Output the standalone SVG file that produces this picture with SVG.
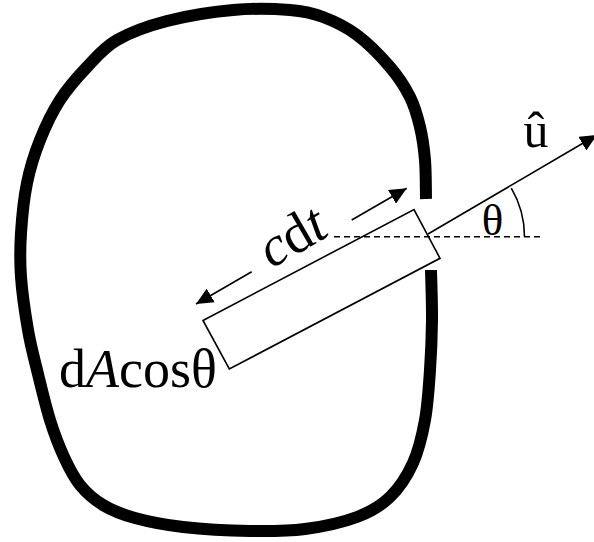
<svg xmlns="http://www.w3.org/2000/svg" width="594" height="542" viewBox="0 0 594 542">
<style>
.thin{fill:none;stroke:#000;stroke-width:1.6}
.dash{fill:none;stroke:#000;stroke-width:1.4;stroke-dasharray:6,4}
.lbl{font-family:"Liberation Serif","Times New Roman",serif;fill:#000}
.it{font-style:italic}
</style>
<defs>
<marker id="ah" markerUnits="userSpaceOnUse" markerWidth="17" markerHeight="16" refX="16" refY="7.5" orient="auto" viewBox="0 0 16 15">
<path d="M0,0 L16,7.5 L0,15 z" fill="#000"/>
</marker>
</defs>
<rect width="594" height="542" fill="#fff"/>
<g id="surface">
<path fill="none" stroke="#000" stroke-width="12" stroke-linecap="butt" stroke-linejoin="round" d="M426,199 C425.83,192.5 426,172 425,160 C424,148 422.5,137.5 420,127 C417.5,116.5 415,107 410,97 C405,87 398.83,77.33 390,67 C381.17,56.67 368.17,43.33 357,35 C345.83,26.67 334.17,21.17 323,17 C311.830,12.83 305,11.17 290,10 C275,8.83 253.5,8.17 233,10 C212.5,11.83 186.33,16 167,21 C147.67,26 130.33,32.33 117,40 C103.67,47.67 96.5,57 87,67 C77.5,77 67.83,87.83 60,100 C52.17,112.17 45.5,126.17 40,140 C34.5,153.83 30.17,167.5 27,183 C23.83,198.5 22,217.33 21,233 C20,248.67 19.83,260.83 21,277 C22.17,293.17 25.33,314.5 28,330 C30.67,345.5 33.33,355 37,370 C40.67,385 45.5,405.5 50,420 C54.5,434.5 59,446.17 64,457 C69,467.83 73.5,477 80,485 C86.5,493 93.83,499.5 103,505 C112.17,510.5 121.67,514.33 135,518 C148.33,521.67 163.83,524.83 183,527 C202.17,529.17 229.67,530.67 250,531 C270.33,531.33 287.17,531.33 305,529 C322.83,526.67 342.83,522.33 357,517 C371.17,511.67 380.67,506 390,497 C399.33,488 407.17,475.83 413,463 C418.83,450.17 422.17,435.5 425,420 C427.83,404.5 428.83,386.67 430,370 C431.17,353.33 431.83,336.67 432,320 C432.17,303.33 431.17,278.33 431,270"/>
</g>
<g id="cylinder">
<polygon class="thin" points="203,320.5 414,209.5 440,258.3 229.3,369"/>
</g>
<g id="connectors">
<line class="thin" x1="351.7" y1="220" x2="406.7" y2="188.3" marker-end="url(#ah)"/>
<line class="thin" x1="251.7" y1="271.7" x2="196" y2="304" marker-end="url(#ah)"/>
<line class="thin" x1="428" y1="234" x2="597" y2="135" marker-end="url(#ah)"/>
<line class="dash" x1="334" y1="236.7" x2="543" y2="236.7"/>
<path class="thin" d="M511.3,188.1 A96,96 0 0 1 524.5,236.7"/>
</g>
<g id="labels">
<text class="lbl" x="59" y="387" font-size="54">d<tspan class="it">A</tspan>cosθ</text>
<text class="lbl" x="301" y="252" font-size="56" text-anchor="middle" transform="rotate(-30 301 252)"><tspan class="it">c</tspan>d<tspan class="it">t</tspan></text>
<text class="lbl" x="536" y="147" font-size="50" text-anchor="middle">û</text>
<text class="lbl" x="492.5" y="235" font-size="45" text-anchor="middle">θ</text>
</g>
</svg>
